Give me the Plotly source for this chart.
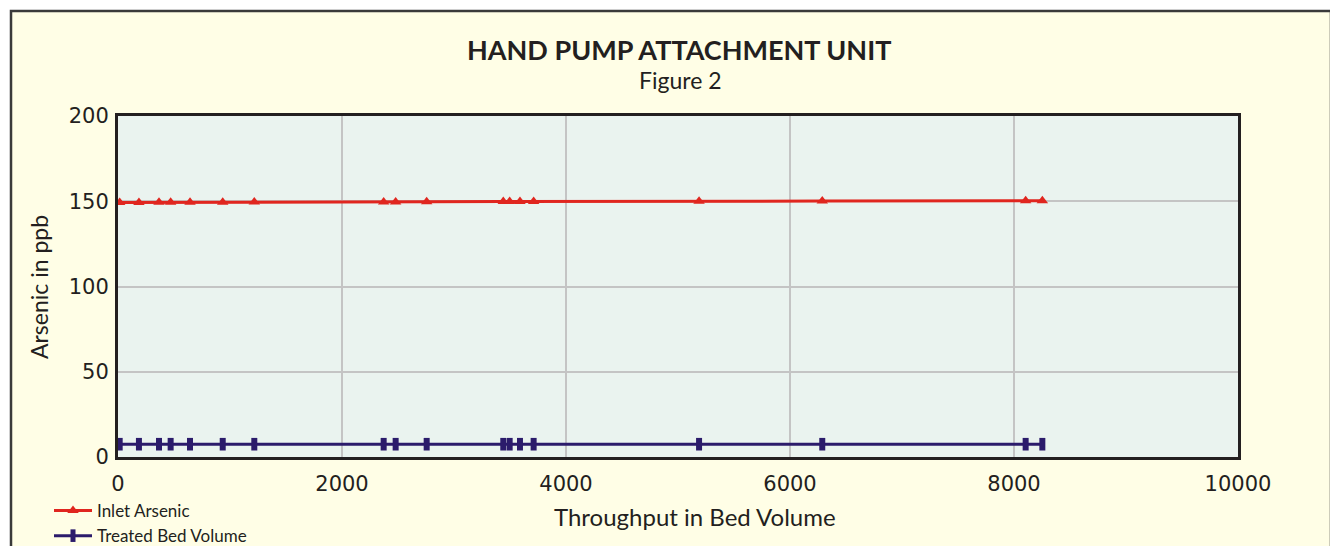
import plotly.graph_objects as go

throughput = [15, 187, 366, 470, 643, 935, 1217, 2372, 2479, 2756, 3440, 3497, 3589, 3711, 5188, 6288, 8104, 8253]
inlet_arsenic = [149.3, 149.3, 149.4, 149.4, 149.4, 149.4, 149.5, 149.6, 149.6, 149.7, 149.8, 149.8, 149.8, 149.8, 150.0, 150.1, 150.3, 150.3]
treated_arsenic = [7.5] * len(throughput)

x_ticks = [0, 2000, 4000, 6000, 8000, 10000]
x_tick_labels = ["0", "2000", "4000", "6000", "8000", "10000"]
y_ticks = [0, 50, 100, 150, 200]
y_tick_labels = ["0", "50", "100", "150", "200"]

FONT = "Lato, 'Open Sans', sans-serif"
NUMFONT = "'DejaVu Sans', sans-serif"
# page body has an 8px margin; figure sized so that it fills the 1338x546 window
OFF = 8
W, H = 1338 - OFF, 546 - OFF
L, T = 118 - OFF, 116 - OFF
pw, ph = 1120, 341
R, B = W - L - pw, H - T - ph

def px_x(p):
    """page pixel x -> paper coordinate"""
    return (p - OFF - L) / pw

def px_y(p):
    """page pixel y -> paper coordinate"""
    return (T + ph - (p - OFF)) / ph

fig = go.Figure()
fig.add_trace(go.Scatter(
    x=throughput, y=inlet_arsenic, name="Inlet Arsenic", mode="lines+markers",
    line=dict(color="#E0261F", width=3),
    marker=dict(symbol="triangle-up", size=10, color="#E0261F"),
))
fig.add_trace(go.Scatter(
    x=throughput, y=treated_arsenic, name="Treated Bed Volume", mode="lines+markers",
    line=dict(color="#2B1B6B", width=3),
    marker=dict(symbol="line-ns", size=9, line=dict(width=6, color="#2B1B6B")),
))

shapes = [
    dict(type="rect", xref="paper", yref="paper", layer="below",
         x0=px_x(11), x1=px_x(1331), y0=px_y(600), y1=px_y(11),
         fillcolor="#FFFEE6", line=dict(color="#3a3a3a", width=2.5)),
    dict(type="rect", xref="paper", yref="paper", layer="below",
         x0=0, x1=1, y0=0, y1=1, fillcolor="#EAF3EF", line=dict(width=0)),
]

annotations = [
    dict(text="<b>HAND PUMP ATTACHMENT UNIT</b>", xref="paper", yref="paper",
         x=px_x(679), y=px_y(50), showarrow=False, xanchor="center", yanchor="middle",
         font=dict(family=FONT, size=27, color="#231f20")),
    dict(text="Figure 2", xref="paper", yref="paper",
         x=px_x(680), y=px_y(80), showarrow=False, xanchor="center", yanchor="middle",
         font=dict(family=FONT, size=23, color="#231f20")),
    dict(text="Throughput in Bed Volume", xref="paper", yref="paper",
         x=px_x(695), y=px_y(516), showarrow=False, xanchor="center", yanchor="middle",
         font=dict(family=FONT, size=24, color="#231f20")),
    dict(text="Arsenic in ppb", xref="paper", yref="paper", textangle=-90,
         x=px_x(39), y=px_y(287), showarrow=False, xanchor="center", yanchor="middle",
         font=dict(family=FONT, size=23, color="#231f20")),
]

fig.update_layout(
    width=W, height=H,
    margin=dict(l=L, r=R, t=T, b=B, autoexpand=False),
    paper_bgcolor="white",
    plot_bgcolor="rgba(0,0,0,0)",
    font=dict(family=FONT, size=20, color="#231f20"),
    shapes=shapes,
    annotations=annotations,
    showlegend=True,
    legend=dict(x=px_x(49), y=px_y(493), xanchor="left", yanchor="top",
                bgcolor="rgba(0,0,0,0)", font=dict(family=FONT, size=17, color="#231f20"),
                tracegroupgap=0, itemwidth=38),
    xaxis=dict(range=[0, 10000], tickvals=x_ticks, ticktext=x_tick_labels,
               showgrid=True, gridcolor="#C4C4C4", gridwidth=2,
               zeroline=False, showline=True, linecolor="#231f20", linewidth=3, mirror=True,
               ticks="", ticklabelstandoff=6, tickfont=dict(family=NUMFONT, size=21)),
    yaxis=dict(range=[0, 200], tickvals=y_ticks, ticktext=y_tick_labels,
               showgrid=True, gridcolor="#C4C4C4", gridwidth=2,
               zeroline=False, showline=True, linecolor="#231f20", linewidth=3, mirror=True,
               ticks="", ticklabelstandoff=2, tickfont=dict(family=NUMFONT, size=21)),
)

fig.write_html("out.html")
